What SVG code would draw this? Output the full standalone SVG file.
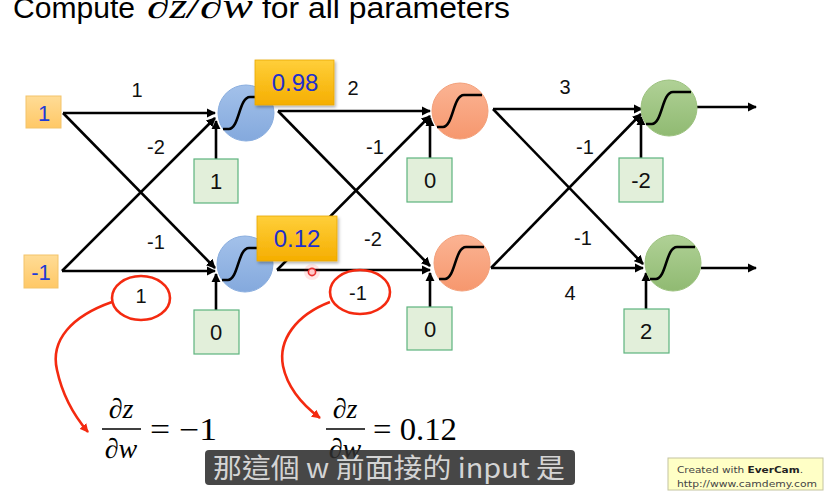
<svg xmlns="http://www.w3.org/2000/svg" width="835" height="503" viewBox="0 0 835 503">
<style>
.ln{stroke:#000;stroke-width:2.6;fill:none}
.arr{marker-end:url(#ah)}
.lbl{font-family:"Liberation Sans",Arial,sans-serif;font-size:20px;fill:#111;text-anchor:middle}
.bias rect{fill:#E2EFDA;stroke:#5DB37E;stroke-width:1.2}
.bias text{font-family:"Liberation Sans",Arial,sans-serif;font-size:22px;fill:#111;text-anchor:middle}
.inp rect{fill:url(#gIn);stroke:#F3C46A;stroke-width:1}
.inp text{font-family:"Liberation Sans",Arial,sans-serif;font-size:22px;fill:#1F3BD6;text-anchor:middle}
.out rect{fill:url(#gOut);stroke:#E8A800;stroke-width:0.8;filter:url(#sh)}
.out text{font-family:"Liberation Sans",Arial,sans-serif;font-size:24px;fill:#1F2FCC;text-anchor:middle}
.sig{stroke:#000;stroke-width:2.6;fill:none}
.red{stroke:#F42A10;stroke-width:2.6;fill:none}
.math{font-family:"Liberation Serif","DejaVu Serif",serif;font-size:28px;fill:#000}
</style>
<defs>
<marker id="ah" viewBox="0 0 10 10" refX="9" refY="5" markerWidth="3.6" markerHeight="3.6" orient="auto" markerUnits="strokeWidth"><path d="M0,0 L10,5 L0,10 z" fill="#000"/></marker>
<marker id="rh" viewBox="0 0 10 10" refX="9" refY="5" markerWidth="3.4" markerHeight="3.4" orient="auto" markerUnits="strokeWidth"><path d="M0,0 L10,5 L0,10 z" fill="#F42A10"/></marker>
<linearGradient id="gBlue" x1="0" y1="0" x2="0" y2="1"><stop offset="0" stop-color="#A3C1EA"/><stop offset="1" stop-color="#84A9DD"/></linearGradient>
<linearGradient id="gOr" x1="0" y1="0" x2="0" y2="1"><stop offset="0" stop-color="#FBB393"/><stop offset="1" stop-color="#F6976E"/></linearGradient>
<linearGradient id="gGr" x1="0" y1="0" x2="0" y2="1"><stop offset="0" stop-color="#B0D196"/><stop offset="1" stop-color="#90BA72"/></linearGradient>
<linearGradient id="gIn" x1="0" y1="0" x2="0" y2="1"><stop offset="0" stop-color="#FFDC96"/><stop offset="1" stop-color="#FFC866"/></linearGradient>
<linearGradient id="gOut" x1="0" y1="0" x2="0" y2="1"><stop offset="0" stop-color="#FFCF3A"/><stop offset="1" stop-color="#F5AE00"/></linearGradient>
<filter id="sh" x="-10%" y="-10%" width="130%" height="140%"><feDropShadow dx="1.5" dy="2" stdDeviation="1.5" flood-color="#000" flood-opacity="0.3"/></filter>
<path id="sg" d="M-23,16 L-17,16 C-7,16 -7,-16 4,-16 L22,-16"/>
</defs>
<rect width="835" height="503" fill="#fff"/>

<!-- title -->
<g id="title">
<text x="13" y="18" font-family="Liberation Sans,Arial,sans-serif" font-size="30" textLength="122" lengthAdjust="spacingAndGlyphs">Compute</text>
<text x="147" y="18" font-family="Liberation Serif,serif" font-style="italic" font-size="35" textLength="106" lengthAdjust="spacingAndGlyphs">∂z/∂w</text>
<text x="262" y="18" font-family="Liberation Sans,Arial,sans-serif" font-size="30" textLength="248" lengthAdjust="spacingAndGlyphs">for all parameters</text>
</g>

<!-- connectors -->
<g id="connectors">
<line class="ln arr" x1="63" y1="113" x2="215" y2="113"/>
<line class="ln arr" x1="63" y1="113" x2="215" y2="268"/>
<line class="ln arr" x1="62" y1="271" x2="215" y2="118"/>
<line class="ln arr" x1="62" y1="271" x2="215" y2="271"/>
<line class="ln arr" x1="216" y1="159" x2="216" y2="121"/>
<line class="ln arr" x1="216" y1="310" x2="216" y2="274"/>

<line class="ln arr" x1="278" y1="111" x2="430" y2="111"/>
<line class="ln arr" x1="278" y1="111" x2="430" y2="266"/>
<line class="ln arr" x1="277" y1="270" x2="430" y2="116"/>
<line class="ln arr" x1="277" y1="270" x2="430" y2="270"/>
<line class="ln arr" x1="430" y1="158" x2="430" y2="118"/>
<line class="ln arr" x1="430" y1="307" x2="430" y2="273"/>

<line class="ln arr" x1="493" y1="109" x2="642" y2="109"/>
<line class="ln arr" x1="493" y1="109" x2="643" y2="264"/>
<line class="ln arr" x1="491" y1="268" x2="641" y2="114"/>
<line class="ln arr" x1="491" y1="268" x2="643" y2="268"/>
<line class="ln arr" x1="641" y1="158" x2="641" y2="117"/>
<line class="ln arr" x1="646" y1="309" x2="646" y2="273"/>

<line class="ln arr" x1="697" y1="107" x2="756" y2="107"/>
<line class="ln arr" x1="701" y1="268" x2="756" y2="268"/>

<text class="lbl" x="137" y="97">1</text>
<text class="lbl" x="156" y="154">-2</text>
<text class="lbl" x="156" y="249">-1</text>
<text class="lbl" x="141" y="303">1</text>
<text class="lbl" x="353" y="95">2</text>
<text class="lbl" x="375" y="154">-1</text>
<text class="lbl" x="373" y="246">-2</text>
<text class="lbl" x="358" y="300">-1</text>
<text class="lbl" x="565" y="94">3</text>
<text class="lbl" x="585" y="154">-1</text>
<text class="lbl" x="583" y="245">-1</text>
<text class="lbl" x="570" y="300">4</text>
</g>

<!-- inputs -->
<g id="in1" class="inp"><rect x="26" y="96" width="35" height="32"/><text x="44" y="121">1</text></g>
<g id="in2" class="inp"><rect x="24" y="255" width="34" height="33"/><text x="41" y="280">-1</text></g>

<!-- neurons -->
<g id="h1"><circle cx="246" cy="113" r="28" fill="url(#gBlue)" stroke="#8AAEDF" stroke-width="1"/><use href="#sg" class="sig" transform="translate(246,113)"/></g>
<g id="h2"><circle cx="245" cy="264" r="28" fill="url(#gBlue)" stroke="#8AAEDF" stroke-width="1"/><use href="#sg" class="sig" transform="translate(245,264)"/></g>
<g id="m1"><circle cx="460" cy="111" r="28" fill="url(#gOr)" stroke="#F3A07A" stroke-width="1"/><use href="#sg" class="sig" transform="translate(460,111)"/></g>
<g id="m2"><circle cx="462" cy="263" r="28" fill="url(#gOr)" stroke="#F3A07A" stroke-width="1"/><use href="#sg" class="sig" transform="translate(462,263)"/></g>
<g id="o1"><circle cx="669" cy="108" r="28" fill="url(#gGr)" stroke="#9CC27F" stroke-width="1"/><use href="#sg" class="sig" transform="translate(669,108)"/></g>
<g id="o2"><circle cx="673" cy="263" r="28" fill="url(#gGr)" stroke="#9CC27F" stroke-width="1"/><use href="#sg" class="sig" transform="translate(673,263)"/></g>

<!-- biases -->
<g id="b1" class="bias"><rect x="194" y="159" width="44" height="44"/><text x="216" y="189">1</text></g>
<g id="b2" class="bias"><rect x="194" y="310" width="45" height="44"/><text x="216" y="340">0</text></g>
<g id="b3" class="bias"><rect x="407" y="158" width="45" height="44"/><text x="430" y="188">0</text></g>
<g id="b4" class="bias"><rect x="407" y="307" width="45" height="43"/><text x="430" y="337">0</text></g>
<g id="b5" class="bias"><rect x="619" y="158" width="44" height="44"/><text x="641" y="188">-2</text></g>
<g id="b6" class="bias"><rect x="624" y="309" width="45" height="44"/><text x="646" y="339">2</text></g>

<!-- activation outputs -->
<g id="a1" class="out"><rect x="255" y="60" width="79" height="45"/><text x="295" y="91">0.98</text></g>
<g id="a2" class="out"><rect x="257" y="216" width="80" height="45"/><text x="297" y="247">0.12</text></g>

<!-- cursor highlight -->
<g id="cursor"><circle cx="312" cy="272" r="8" fill="#FF3030" opacity="0.12"/><circle cx="312" cy="272" r="3.6" fill="#FFC8C8" stroke="#E83030" stroke-width="1.6"/></g>

<!-- red annotations -->
<g id="ann">
<ellipse class="red" cx="141" cy="298" rx="29" ry="22"/>
<ellipse class="red" cx="360" cy="292" rx="30" ry="22"/>
<path class="red" style="marker-end:url(#rh)" d="M112,302 C72,316 50,340 57,370 C63,398 76,418 88,432"/>
<path class="red" style="marker-end:url(#rh)" d="M330,302 C296,315 278,340 283,366 C288,390 304,406 320,418"/>
</g>

<!-- formulas -->
<g id="f1" class="math">
<text x="121" y="418" text-anchor="middle" font-style="italic">∂z</text>
<line x1="102" y1="429" x2="141" y2="429" stroke="#000" stroke-width="1.6"/>
<text x="121" y="458" text-anchor="middle" font-style="italic">∂w</text>
<text x="150" y="440" font-size="31" textLength="67" lengthAdjust="spacingAndGlyphs">= −1</text>
</g>
<g id="f2" class="math">
<text x="345" y="418" text-anchor="middle" font-style="italic">∂z</text>
<line x1="326" y1="429" x2="365" y2="429" stroke="#000" stroke-width="1.6"/>
<text x="345" y="458" text-anchor="middle" font-style="italic">∂w</text>
<text x="373" y="440" font-size="31" textLength="84" lengthAdjust="spacingAndGlyphs">= 0.12</text>
</g>

<!-- subtitle -->
<g id="subtitle">
<rect x="205" y="450" width="370" height="35" rx="4" fill="#2E2E2E" opacity="0.88"/>
<text x="213" y="478" font-family="Noto Sans CJK TC,Noto Sans CJK SC,sans-serif" font-size="27" fill="#D4D4D4" textLength="352" lengthAdjust="spacingAndGlyphs">那這個 w 前面接的 input 是</text>
</g>

<!-- watermark -->
<g id="watermark">
<rect x="668" y="458" width="155" height="32" fill="#FFFFC6" stroke="#C4C4A0" stroke-width="1"/>
<text x="677" y="473" font-family="DejaVu Sans,Verdana,sans-serif" font-size="9.5" fill="#444" textLength="126" lengthAdjust="spacingAndGlyphs">Created with <tspan font-weight="bold" fill="#222">EverCam</tspan>.</text>
<text x="677" y="487" font-family="DejaVu Sans,Verdana,sans-serif" font-size="9.5" fill="#444" textLength="140" lengthAdjust="spacingAndGlyphs">http://www.camdemy.com</text>
</g>
</svg>
